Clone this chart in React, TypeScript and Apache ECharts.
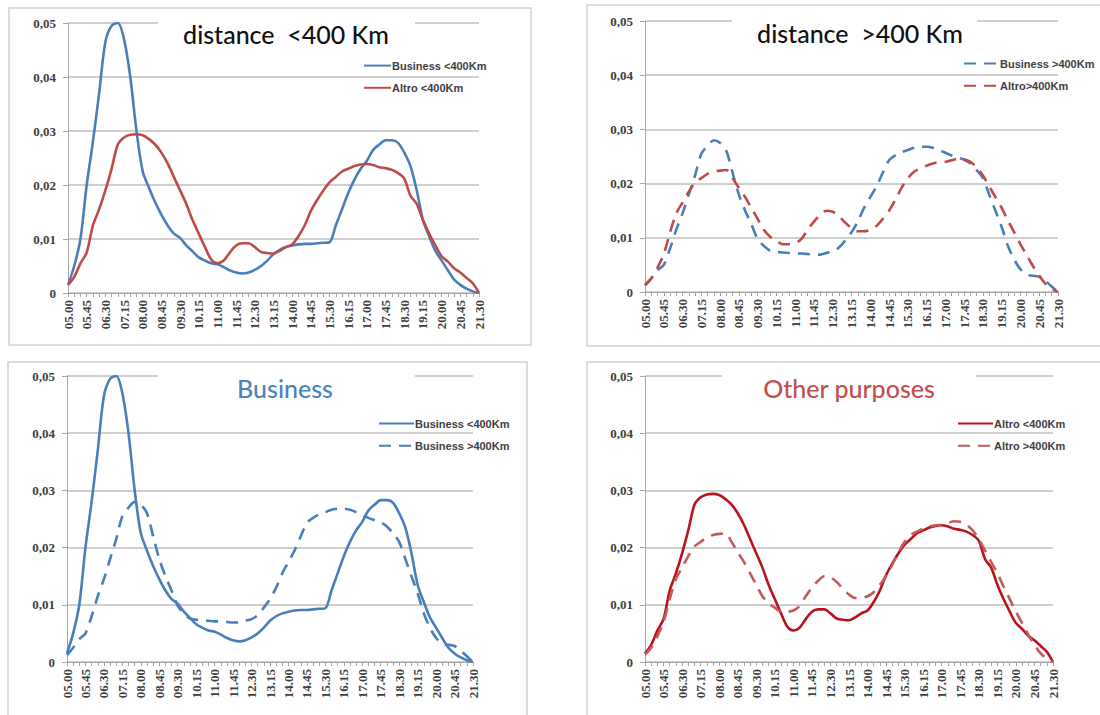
import React, { useEffect, useRef } from "react";
import * as echarts from "echarts";

const times = [
  "05.00","05.15","05.30","05.45","06.00","06.15","06.30","06.45","07.00","07.15","07.30","07.45",
  "08.00","08.15","08.30","08.45","09.00","09.15","09.30","09.45","10.00","10.15","10.30","10.45",
  "11.00","11.15","11.30","11.45","12.00","12.15","12.30","12.45","13.00","13.15","13.30","13.45",
  "14.00","14.15","14.30","14.45","15.00","15.15","15.30","15.45","16.00","16.15","16.30","16.45",
  "17.00","17.15","17.30","17.45","18.00","18.15","18.30","18.45","19.00","19.15","19.30","19.45",
  "20.00","20.15","20.30","20.45","21.00","21.15","21.30",
];

const businessShort = [
  0.0015,0.005,0.01,0.02,0.028,0.037,0.0465,0.0495,0.05,0.047,0.04,0.03,
  0.0225,0.0195,0.0168,0.0145,0.0125,0.011,0.0102,0.0088,0.0077,0.0066,0.006,0.0055,
  0.0053,0.0048,0.0042,0.0038,0.0036,0.0038,0.0043,0.005,0.006,0.0072,0.008,0.0085,
  0.0088,0.009,0.0091,0.0091,0.0092,0.0093,0.0094,0.0125,0.0155,0.0185,0.021,0.023,
  0.0245,0.0265,0.0275,0.0283,0.0283,0.0278,0.026,0.0235,0.019,0.0135,0.0105,0.0078,
  0.006,0.0042,0.0025,0.0015,0.0008,0.0003,0.0,
];

const altroShort = [
  0.0015,0.003,0.0055,0.0075,0.0125,0.0155,0.019,0.023,0.0275,0.0288,0.0293,0.0294,
  0.0292,0.0285,0.0275,0.026,0.024,0.0215,0.019,0.0165,0.0135,0.011,0.0085,0.0062,
  0.0055,0.006,0.0075,0.0088,0.0092,0.0092,0.0085,0.0076,0.0074,0.0073,0.0078,0.0085,
  0.009,0.0105,0.0125,0.0152,0.0172,0.019,0.0205,0.0215,0.0225,0.023,0.0235,0.0238,
  0.0239,0.0237,0.0233,0.0231,0.0228,0.0222,0.0212,0.018,0.0165,0.0135,0.011,0.0088,
  0.0068,0.0058,0.0046,0.0038,0.0028,0.0018,0.0,
];

const businessLong = [
  0.0012,0.0025,0.004,0.005,0.008,0.0115,0.0145,0.018,0.0215,0.0255,0.027,0.028,
  0.0275,0.026,0.022,0.018,0.015,0.0125,0.0098,0.0085,0.0076,0.0074,0.0073,0.0072,
  0.0071,0.0071,0.007,0.0069,0.0069,0.0072,0.0075,0.0082,0.0095,0.011,0.013,0.0155,
  0.0175,0.0195,0.022,0.0243,0.0252,0.0258,0.0262,0.0266,0.0268,0.0268,0.0266,0.0262,
  0.0257,0.0252,0.0248,0.0244,0.0237,0.0225,0.021,0.018,0.015,0.012,0.0085,0.006,
  0.0042,0.0032,0.003,0.0028,0.002,0.001,0.0,
];

const altroLong = [
  0.0013,0.0025,0.0045,0.007,0.011,0.0145,0.0165,0.0185,0.0202,0.021,0.0218,0.0222,
  0.0224,0.0225,0.021,0.0192,0.0175,0.0155,0.0135,0.0115,0.0102,0.0095,0.0088,0.0088,
  0.009,0.0098,0.0115,0.013,0.0142,0.015,0.0148,0.014,0.0128,0.0118,0.0112,0.0112,
  0.0115,0.0122,0.0135,0.015,0.017,0.0192,0.021,0.0222,0.0228,0.0233,0.0237,0.0239,
  0.024,0.0243,0.0246,0.0245,0.024,0.023,0.0215,0.0195,0.0175,0.0155,0.0132,0.011,
  0.0088,0.0068,0.0048,0.003,0.0015,0.0006,0.0,
];

const BLUE = "#4A7EBB";
const RED = "#BE4B48";
const DARKRED = "#B8141E";
const RED2 = "#C45A5A";
const DASH = [12, 8];

type SeriesDef = { name: string; data: number[]; color: string; dashed: boolean };

type PanelDef = {
  left: number;
  top: number;
  width: number;
  height: number;
  title: string;
  titleColor: string;
  titleX: number;
  titleY: number;
  gap: [number, number, number];
  grid: { left: number; right: number; top: number; bottom: number };
  border: [number, number, number, number];
  legend: { left: number; top: number; itemWidth: number };
  series: SeriesDef[];
};

const panels: PanelDef[] = [
  {
    left: 0, top: 0, width: 550, height: 357,
    title: "distance  <400 Km", titleColor: "#111", titleX: 286, titleY: 34,
    gap: [158, 415, 23],
    grid: { left: 68, right: 71, top: 23, bottom: 64 },
    border: [9, 8, 522, 337],
    legend: { left: 358, top: 55, itemWidth: 27 },
    series: [
      { name: "Business <400Km", data: businessShort, color: BLUE, dashed: false },
      { name: "Altro <400Km", data: altroShort, color: RED, dashed: false },
    ],
  },
  {
    left: 550, top: 0, width: 550, height: 357,
    title: "distance  >400 Km", titleColor: "#111", titleX: 310, titleY: 33,
    gap: [182, 427, 21],
    grid: { left: 95, right: 42, top: 21, bottom: 65 },
    border: [37, 5, 620, 341],
    legend: { left: 408, top: 53, itemWidth: 35 },
    series: [
      { name: "Business >400Km", data: businessLong, color: BLUE, dashed: true },
      { name: "Altro>400Km", data: altroLong, color: RED, dashed: true },
    ],
  },
  {
    left: 0, top: 357, width: 550, height: 358,
    title: "Business", titleColor: "#4F81BD", titleX: 285, titleY: 31,
    gap: [158, 415, 19],
    grid: { left: 67, right: 77, top: 19, bottom: 53 },
    border: [8, 5, 519, 420],
    legend: { left: 373, top: 56, itemWidth: 35 },
    series: [
      { name: "Business <400Km", data: businessShort, color: BLUE, dashed: false },
      { name: "Business >400Km", data: businessLong, color: BLUE, dashed: true },
    ],
  },
  {
    left: 550, top: 357, width: 550, height: 358,
    title: "Other purposes", titleColor: "#C0504D", titleX: 299, titleY: 31,
    gap: [172, 426, 19],
    grid: { left: 95, right: 47, top: 19, bottom: 53 },
    border: [37, 5, 620, 420],
    legend: { left: 402, top: 56, itemWidth: 35 },
    series: [
      { name: "Altro <400Km", data: altroShort, color: DARKRED, dashed: false },
      { name: "Altro >400Km", data: altroLong, color: RED2, dashed: true },
    ],
  },
];

function buildOption(p: PanelDef) {
  return {
    animation: false,
    backgroundColor: "#fff",
    grid: { ...p.grid, containLabel: false },
    legend: {
      orient: "vertical",
      left: p.legend.left,
      top: p.legend.top,
      itemWidth: p.legend.itemWidth,
      itemHeight: 14,
      itemGap: 11,
      itemStyle: { opacity: 0 },
      data: p.series.map((s) => s.name),
      textStyle: {
        fontFamily: "Liberation Sans Narrow, Liberation Sans, sans-serif",
        fontWeight: "bold",
        fontSize: 11,
        color: "#404040",
        padding: [0, 0, 0, -4],
      },
    },
    xAxis: {
      type: "category",
      data: times,
      boundaryGap: false,
      axisLine: { lineStyle: { color: "#A6A6A6", width: 1 } },
      axisTick: { show: true, interval: 0, length: 4, lineStyle: { color: "#A6A6A6" } },
      axisLabel: {
        interval: 2,
        rotate: 90,
        margin: 7,
        fontFamily: "Liberation Serif, serif",
        fontWeight: "bold",
        fontSize: 13,
        color: "#404040",
      },
      splitLine: { show: false },
    },
    yAxis: {
      type: "value",
      min: 0,
      max: 0.05,
      interval: 0.01,
      axisLine: { show: true, lineStyle: { color: "#A6A6A6", width: 1 } },
      axisTick: { show: true, length: 5, lineStyle: { color: "#A6A6A6" } },
      axisLabel: {
        margin: 12,
        fontFamily: "Liberation Serif, serif",
        fontWeight: "bold",
        fontSize: 13,
        color: "#404040",
        formatter: (v: number) => (v === 0 ? "0" : v.toFixed(2).replace(".", ",")),
      },
      splitLine: { show: true, lineStyle: { color: "#BFBFBF", width: 1.5 } },
    },
    graphic: [
      {
        type: "rect",
        shape: { x: p.border[0], y: p.border[1], width: p.border[2], height: p.border[3] },
        style: { fill: "none", stroke: "#D0D0D0", lineWidth: 1.5 },
        z: 0,
        silent: true,
      },
      {
        type: "rect",
        shape: { x: p.gap[0], y: p.gap[2] - 6, width: p.gap[1] - p.gap[0], height: 12 },
        style: { fill: "#fff" },
        z: 50,
        silent: true,
      },
      {
        type: "text",
        x: p.titleX,
        y: p.titleY,
        z: 60,
        style: {
          text: p.title,
          fill: p.titleColor,
          font: "500 25px Lato, 'Open Sans', sans-serif",
          align: "center",
          verticalAlign: "middle",
        },
        silent: true,
      },
    ],
    series: p.series.map((s) => ({
      name: s.name,
      type: "line",
      data: s.data,
      smooth: 0.3,
      symbol: "none",
      z: 3,
      lineStyle: { color: s.color, width: 2.6, type: s.dashed ? DASH : "solid" },
      itemStyle: { color: s.color },
    })),
  };
}

function Panel({ p }: { p: PanelDef }) {
  const ref = useRef<HTMLDivElement>(null);
  useEffect(() => {
    if (!ref.current) return;
    const chart = echarts.init(ref.current, undefined, { renderer: "svg" });
    chart.setOption(buildOption(p) as any);
    return () => chart.dispose();
  }, [p]);
  return (
    <div
      ref={ref}
      style={{ position: "absolute", left: p.left, top: p.top, width: p.width, height: p.height, overflow: "hidden" }}
    />
  );
}

export default function App() {
  return (
    <div style={{ position: "fixed", left: 0, top: 0, width: 1100, height: 715, background: "#fff", overflow: "hidden" }}>
      {panels.map((p, i) => (
        <Panel key={i} p={p} />
      ))}
    </div>
  );
}
